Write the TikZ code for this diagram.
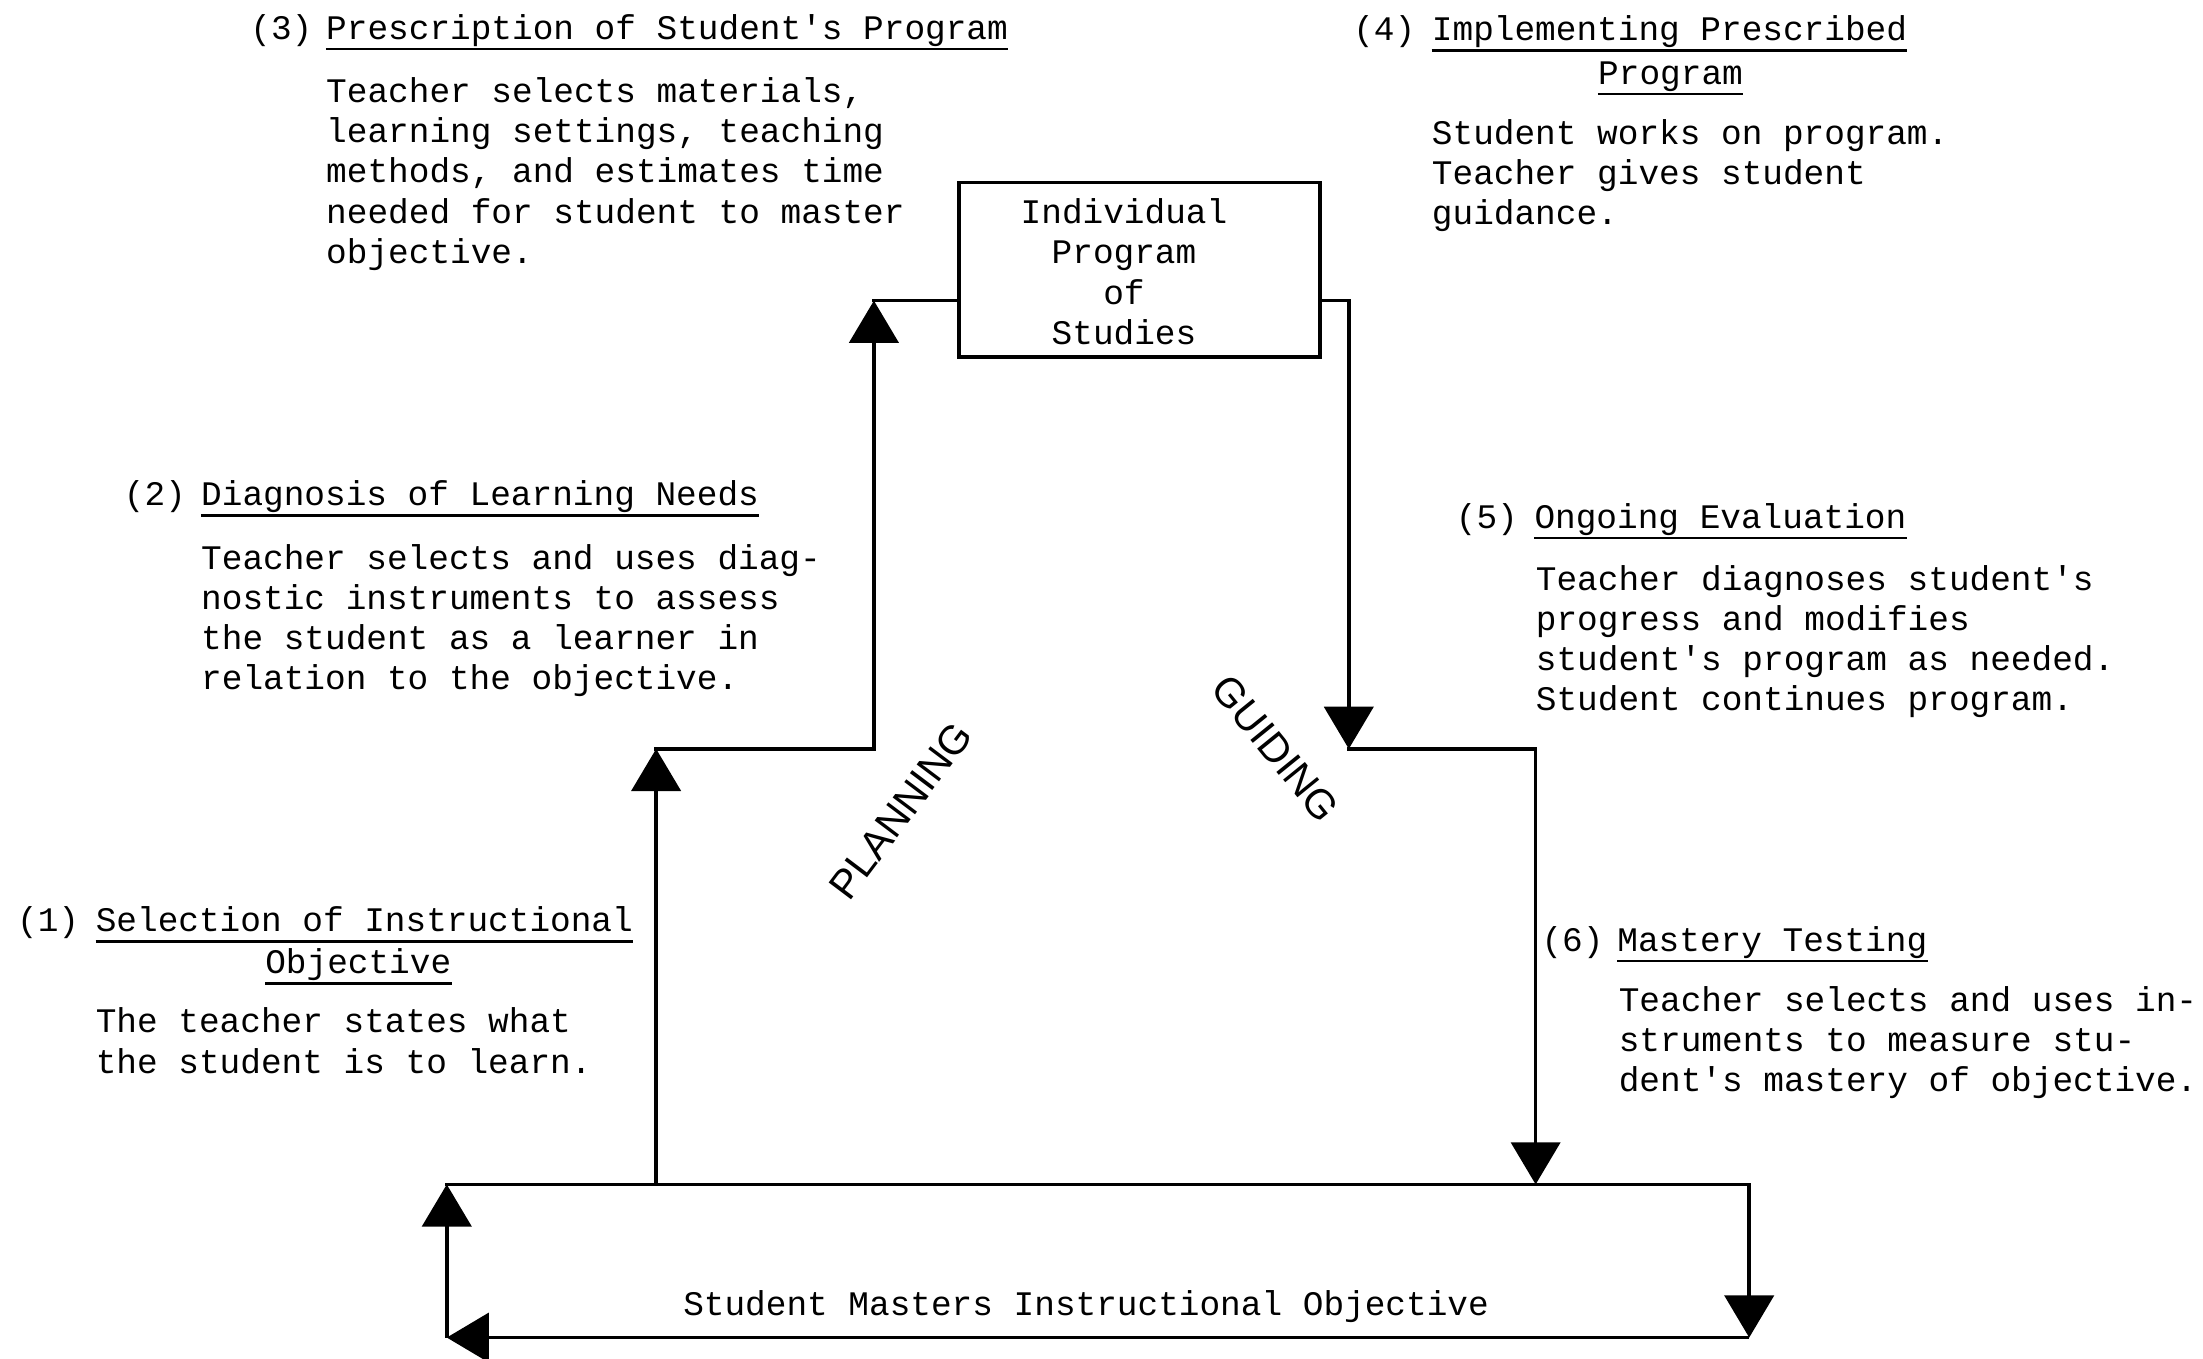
\documentclass[tikz,border=0pt]{standalone}
\usepackage{fontspec}
\setmonofont{Liberation Mono}
\newfontfamily\labelfont{Liberation Sans}
\usetikzlibrary{arrows.meta}
\begin{document}
\begin{tikzpicture}[x=1pt,y=-1pt,
  tw/.style={font=\ttfamily\fontsize{24.5}{29}\selectfont, inner sep=0pt, anchor=base west},
  twc/.style={font=\ttfamily\fontsize{24.5}{29}\selectfont, inner sep=0pt, anchor=base},
  conn/.style={line width=2.6pt, line cap=rect},
  tip/.style={line cap=butt, -{Triangle[width=35pt,length=30pt]}},
  uline/.style={line width=1.8pt},
  boxst/.style={draw, line width=2.6pt, minimum width=257pt, minimum height=124pt, inner sep=0pt},
  rot/.style={font=\labelfont\fontsize{29}{29}\selectfont, inner sep=0pt}
]
\useasboundingbox (0,0) rectangle (1568,967);

% (3)
\node[tw] (n3) at (178,28) {(3)};
\node[tw] (t3) at (232,28) {Prescription of Student's Program};
\draw[uline] ([yshift=-7pt]t3.base west) -- ([yshift=-7pt]t3.base east);
\foreach \s [count=\i] in {{Teacher selects materials,},{learning settings, teaching},{methods, and estimates time},{needed for student to master},{objective.}}
  \node[tw] (b3-\i) at (232,{73+28.6*(\i-1)}) {\s};

% (4)
\node[tw] (n4) at (963,29) {(4)};
\node[tw] (t4) at (1019,29) {Implementing Prescribed};
\draw[uline] ([yshift=-7pt]t4.base west) -- ([yshift=-7pt]t4.base east);
\node[twc] (t4b) at (1189,60) {Program};
\draw[uline] ([yshift=-7pt]t4b.base west) -- ([yshift=-7pt]t4b.base east);
\foreach \s [count=\i] in {{Student works on program.},{Teacher gives student},{guidance.}}
  \node[tw] (b4-\i) at (1019,{103+28.3*(\i-1)}) {\s};

% central box
\node[boxst] (ips) at (811,192) {};
\foreach \s [count=\i] in {Individual,Program,of,Studies}
  \node[twc] (ipt-\i) at (800,{159+28.7*(\i-1)}) {\s};

% (2)
\node[tw] (n2) at (88,360) {(2)};
\node[tw] (t2) at (143,360) {Diagnosis of Learning Needs};
\draw[uline] ([yshift=-7pt]t2.base west) -- ([yshift=-7pt]t2.base east);
\foreach \s [count=\i] in {{Teacher selects and uses diag-},{nostic instruments to assess},{the student as a learner in},{relation to the objective.}}
  \node[tw] (b2-\i) at (143,{405+28.7*(\i-1)}) {\s};

% (5)
\node[tw] (n5) at (1036,376) {(5)};
\node[tw] (t5) at (1092,376) {Ongoing Evaluation};
\draw[uline] ([yshift=-7pt]t5.base west) -- ([yshift=-7pt]t5.base east);
\foreach \s [count=\i] in {{Teacher diagnoses student's},{progress and modifies},{student's program as needed.},{Student continues program.}}
  \node[tw] (b5-\i) at (1093,{420+28.5*(\i-1)}) {\s};

% (1)
\node[tw] (n1) at (12,663) {(1)};
\node[tw] (t1) at (68,663) {Selection of Instructional};
\draw[uline] ([yshift=-7pt]t1.base west) -- ([yshift=-7pt]t1.base east);
\node[twc] (t1b) at (255,693) {Objective};
\draw[uline] ([yshift=-7pt]t1b.base west) -- ([yshift=-7pt]t1b.base east);
\foreach \s [count=\i] in {{The teacher states what},{the student is to learn.}}
  \node[tw] (b1-\i) at (68,{735+29*(\i-1)}) {\s};

% (6)
\node[tw] (n6) at (1097,677) {(6)};
\node[tw] (t6) at (1151,677) {Mastery Testing};
\draw[uline] ([yshift=-7pt]t6.base west) -- ([yshift=-7pt]t6.base east);
\foreach \s [count=\i] in {{Teacher selects and uses in-},{struments to measure stu-},{dent's mastery of objective.}}
  \node[tw] (b6-\i) at (1152,{720+28.6*(\i-1)}) {\s};

% bottom
\node[twc] (smio) at (773,936) {Student Masters Instructional Objective};

% rotated labels
\node[rot, rotate=53] (plan) at (641,577) {PLANNING};
\node[rot, rotate=-51] (guide) at (908,533) {GUIDING};

% connectors
\coordinate (c1) at (622,214);
\coordinate (c2) at (622,533);
\coordinate (c3) at (467,533);
\coordinate (c4) at (467,843);
\coordinate (d1) at (960,214);
\coordinate (d2) at (960,533);
\coordinate (d3) at (1093,533);
\coordinate (d4) at (1093,843);
\coordinate (e1) at (318,843);
\coordinate (e2) at (1245,843);
\coordinate (e3) at (1245,952);
\coordinate (e4) at (318,952);

\draw[conn] (c1 -| ips.west) -- (c1);
\draw[conn,tip] (c2) -- (c1);
\draw[conn] (c2) -- (c3);
\draw[conn,tip] (c4) -- (c3);
\draw[conn] (d1 -| ips.east) -- (d1);
\draw[conn,tip] (d1) -- (d2);
\draw[conn] (d2) -- (d3);
\draw[conn,tip] (d3) -- (d4);
\draw[conn] (e1) -- (e2);
\draw[conn,tip] (e2) -- (e3);
\draw[conn,tip] (e3) -- (e4);
\draw[conn,tip] (e4) -- (e1);
\end{tikzpicture}
\end{document}
